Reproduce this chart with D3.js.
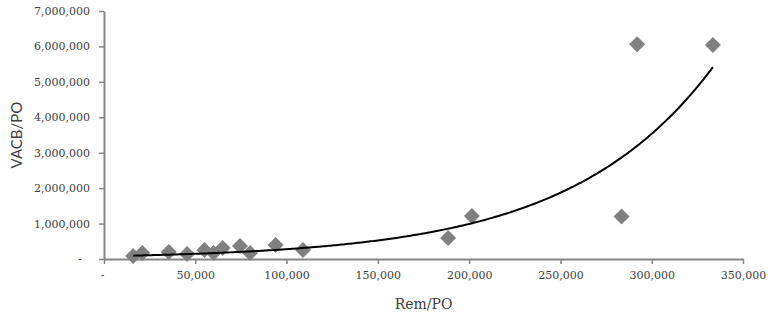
<!DOCTYPE html>
<html>
<head>
<meta charset="utf-8">
<script src="https://cdn.jsdelivr.net/npm/d3@7"></script>
<style>
  body { margin: 0; background: #fff; }
  svg text { fill: #404040; }
</style>
</head>
<body>
<svg width="768" height="323"></svg>
<script>
var svg = d3.select("svg"),
  width = +svg.attr("width"),
  height = +svg.attr("height");

// values
var remPO = [16000, 21000, 35500, 45500, 55000, 60000, 65000, 74500, 80000, 94000, 109000,
  188500, 201500, 283500, 292000, 333500];
var vacbPO = [85000, 170000, 200000, 140000, 255000, 170000, 310000, 365000, 170000, 395000, 255000,
  595000, 1215000, 1200000, 6060000, 6040000];
var xTicks = [0, 50000, 100000, 150000, 200000, 250000, 300000, 350000];
var yTicks = [0, 1000000, 2000000, 3000000, 4000000, 5000000, 6000000, 7000000];

// exponential trendline y = a * e^(b x)
var trendA = 77700;
var trendB = 1.2725e-5;

var points = remPO.map(function(d, i) {
  return { x: d, y: vacbPO[i] };
});

var margin = { top: 11, right: 25, bottom: 64, left: 104 };

var x = d3.scaleLinear()
  .domain([0, 350000])
  .range([margin.left, width - margin.right]);

var y = d3.scaleLinear()
  .domain([0, 7000000])
  .range([height - margin.bottom, margin.top]);

var fmt = function(d) {
  return d === 0 ? "-" : d3.format(",")(d);
};

// x axis
var xAxis = svg.append("g")
  .attr("transform", "translate(0," + y(0) + ")")
  .call(d3.axisBottom(x).tickValues(xTicks).tickFormat(fmt).tickSize(5).tickSizeOuter(0));

// y axis
var yAxis = svg.append("g")
  .attr("transform", "translate(" + x(0) + ",0)")
  .call(d3.axisLeft(y).tickValues(yTicks).tickFormat(fmt).tickSize(5).tickSizeOuter(0));

[xAxis, yAxis].forEach(function(g) {
  g.select(".domain").attr("stroke", "#868686").attr("stroke-width", 2);
  g.selectAll(".tick line").attr("stroke", "#868686").attr("stroke-width", 1.5);
  g.selectAll(".tick text")
    .attr("font-family", "DejaVu Serif")
    .attr("font-size", 11)
    .attr("fill", "#404040");
});
xAxis.selectAll(".tick text").attr("dy", "1.1em").attr("y", 8);
yAxis.selectAll(".tick text").attr("x", -14);
yAxis.selectAll(".tick text").filter(function(d) { return d === 0; }).attr("x", -22);
xAxis.selectAll(".tick text").filter(function(d) { return d === 0; }).attr("dx", -2);

var xs = d3.range(d3.min(remPO), d3.max(remPO), 1000).concat([d3.max(remPO)]);
var line = d3.line()
  .x(function(d) { return x(d); })
  .y(function(d) { return y(trendA * Math.exp(trendB * d)); });

// points
svg.append("g")
  .selectAll("path")
  .data(points)
  .enter().append("path")
  .attr("d", d3.symbol().type(d3.symbolSquare).size(128))
  .attr("transform", function(d) {
    return "translate(" + x(d.x) + "," + y(d.y) + ") rotate(45)";
  })
  .attr("fill", "#808080");

svg.append("path")
  .datum(xs)
  .attr("d", line)
  .attr("fill", "none")
  .attr("stroke", "#000")
  .attr("stroke-width", 2);

// axis titles
svg.append("text")
  .attr("x", (x(0) + x(350000)) / 2)
  .attr("y", 309)
  .attr("text-anchor", "middle")
  .attr("font-family", "DejaVu Serif")
  .attr("font-size", 14)
  .text("Rem/PO");

svg.append("text")
  .attr("transform", "translate(22," + (y(0) + y(7000000)) / 2 + ") rotate(-90)")
  .attr("text-anchor", "middle")
  .attr("font-family", "Lato")
  .attr("font-size", 15)
  .text("VACB/PO");
</script>
</body>
</html>
